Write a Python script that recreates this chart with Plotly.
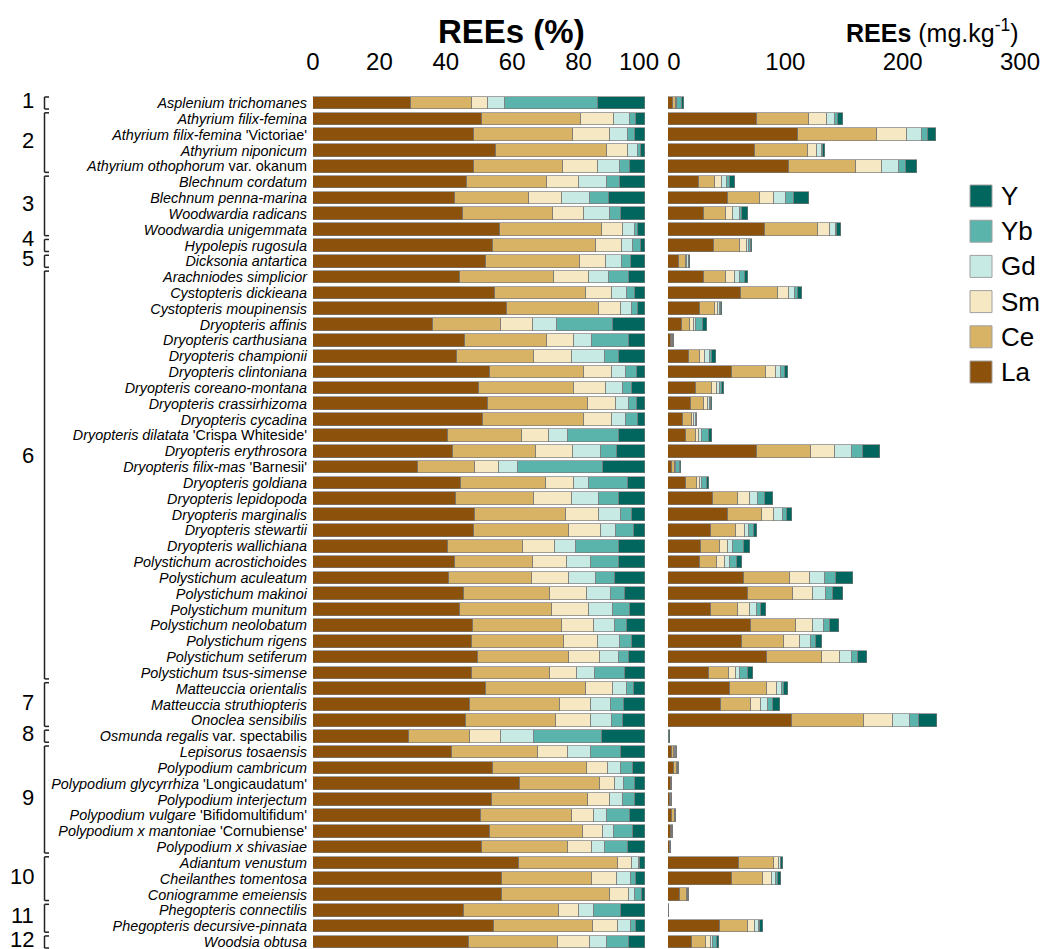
import plotly.graph_objects as go

# ---------------- data ----------------
species = [
    "Asplenium trichomanes", "Athyrium filix-femina", "Athyrium filix-femina", "Athyrium niponicum",
    "Athyrium othophorum", "Blechnum cordatum", "Blechnum penna-marina", "Woodwardia radicans",
    "Woodwardia unigemmata", "Hypolepis rugosula", "Dicksonia antartica", "Arachniodes simplicior",
    "Cystopteris dickieana", "Cystopteris moupinensis", "Dryopteris affinis", "Dryopteris carthusiana",
    "Dryopteris championii", "Dryopteris clintoniana", "Dryopteris coreano-montana", "Dryopteris crassirhizoma",
    "Dryopteris cycadina", "Dryopteris dilatata", "Dryopteris erythrosora", "Dryopteris filix-mas",
    "Dryopteris goldiana", "Dryopteris lepidopoda", "Dryopteris marginalis", "Dryopteris stewartii",
    "Dryopteris wallichiana", "Polystichum acrostichoides", "Polystichum aculeatum", "Polystichum makinoi",
    "Polystichum munitum", "Polystichum neolobatum", "Polystichum rigens", "Polystichum setiferum",
    "Polystichum tsus-simense", "Matteuccia orientalis", "Matteuccia struthiopteris", "Onoclea sensibilis",
    "Osmunda regalis", "Lepisorus tosaensis", "Polypodium cambricum", "Polypodium glycyrrhiza",
    "Polypodium interjectum", "Polypodium vulgare", "Polypodium x mantoniae", "Polypodium x shivasiae",
    "Adiantum venustum", "Cheilanthes tomentosa", "Coniogramme emeiensis", "Phegopteris connectilis",
    "Phegopteris decursive-pinnata", "Woodsia obtusa",
]
suffix = {
    2: "'Victoriae'", 4: "var. okanum", 21: "'Crispa Whiteside'", 23: "'Barnesii'",
    40: "var. spectabilis", 43: "'Longicaudatum'", 45: "'Bifidomultifidum'", 46: "'Cornubiense'",
}

elements = ["La", "Ce", "Sm", "Gd", "Yb", "Y"]

# composition, % of total REEs
La = [29.5, 51.0, 48.5, 55.2, 48.5, 46.3, 42.7, 45.2, 56.3, 54.1, 52.0, 44.4, 54.7, 58.4, 36.0, 45.9, 43.4, 53.3,
      50.1, 52.7, 51.3, 40.8, 42.1, 31.5, 44.6, 43.0, 48.7, 48.5, 40.8, 42.8, 40.9, 45.4, 44.3, 48.3, 47.8, 49.6,
      47.8, 52.0, 47.3, 46.1, 28.9, 42.0, 54.3, 62.2, 53.9, 50.7, 53.2, 50.9, 61.9, 56.9, 56.9, 45.5, 54.5, 46.9]
Ce = [18.5, 29.7, 29.7, 33.5, 26.9, 24.3, 22.4, 27.0, 30.6, 31.0, 28.5, 28.2, 27.4, 27.6, 20.5, 24.5, 23.3, 28.4,
      28.6, 30.1, 30.4, 22.3, 25.2, 17.4, 25.5, 23.7, 27.4, 28.7, 22.6, 23.6, 25.2, 26.0, 27.6, 26.6, 27.7, 27.4,
      23.7, 30.1, 27.0, 27.0, 18.3, 25.7, 28.3, 24.3, 29.0, 27.3, 28.0, 25.8, 29.9, 27.0, 32.5, 28.7, 29.9, 26.8]
Sm = [4.8, 10.1, 11.2, 6.3, 10.5, 9.6, 10.0, 9.5, 6.6, 8.1, 7.7, 10.4, 8.1, 6.9, 9.7, 8.3, 11.2, 8.5,
      9.7, 8.6, 8.5, 8.1, 11.1, 7.0, 8.6, 11.3, 10.0, 9.6, 9.6, 10.0, 10.9, 11.2, 11.3, 9.8, 10.4, 9.3,
      8.1, 8.3, 9.3, 10.5, 9.5, 9.2, 6.3, 4.6, 6.7, 6.7, 6.0, 7.2, 4.4, 7.8, 5.9, 6.0, 7.4, 9.6]
Gd = [4.9, 4.7, 5.6, 3.0, 6.7, 8.4, 8.4, 7.9, 3.4, 3.3, 5.0, 6.3, 4.5, 3.3, 7.2, 5.4, 10.2, 4.1,
      5.1, 3.9, 4.2, 5.7, 8.4, 5.9, 4.4, 8.1, 6.7, 4.4, 6.3, 7.3, 8.2, 7.3, 7.3, 6.4, 6.6, 6.0,
      5.3, 4.2, 6.1, 6.6, 10.0, 6.9, 4.0, 2.6, 3.9, 3.9, 3.4, 4.2, 2.0, 4.1, 1.7, 4.4, 4.1, 5.3]
Yb = [28.0, 1.9, 2.0, 0.7, 3.0, 3.8, 5.6, 3.1, 0.9, 2.2, 2.7, 6.0, 2.2, 1.7, 17.1, 11.1, 4.2, 3.3,
      2.7, 2.2, 3.5, 15.2, 4.8, 25.4, 11.8, 6.2, 3.2, 5.6, 12.8, 8.6, 5.8, 4.1, 4.9, 3.6, 3.7, 2.9,
      9.0, 2.1, 4.0, 3.2, 20.3, 9.1, 3.5, 3.4, 3.6, 7.0, 5.9, 6.9, 0.4, 1.5, 2.1, 8.2, 1.4, 6.7]
Y = [14.3, 2.6, 3.0, 1.3, 4.4, 7.6, 10.9, 7.3, 2.2, 1.3, 4.1, 4.7, 3.1, 2.1, 9.5, 4.8, 7.7, 2.4,
     3.8, 2.5, 2.1, 7.9, 8.4, 12.8, 5.1, 7.7, 4.0, 3.2, 7.9, 7.7, 9.0, 6.0, 4.6, 5.3, 3.8, 4.8,
     6.1, 3.3, 6.3, 6.6, 13.0, 7.1, 3.6, 2.9, 2.9, 4.4, 3.5, 5.0, 1.4, 2.7, 0.9, 7.2, 2.7, 4.7]

# total REEs, mg/kg
total = [13.9, 148.9, 228.1, 134.1, 212.2, 57.1, 120.5, 68.2, 147.4, 71.9, 18.75, 68.5, 114.2, 46.3, 33.0, 5.4,
         40.6, 102.0, 47.7, 37.5, 25.0, 37.5, 181.0, 11.4, 34.9, 89.5, 105.4, 75.6, 69.9, 63.4, 157.4, 149.4,
         83.5, 146.0, 131.3, 169.9, 72.4, 102.3, 95.2, 229.0, 1.4, 8.0, 9.4, 3.7, 3.4, 7.1, 4.3, 2.6,
         98.0, 96.3, 17.9, 1.0, 81.0, 43.5]

group_names = ["1", "2", "3", "4", "5", "6", "7", "8", "9", "10", "11", "12"]
group_first = [0, 1, 5, 9, 10, 11, 37, 40, 41, 48, 51, 53]
group_last = [0, 4, 8, 9, 10, 36, 39, 40, 47, 50, 52, 53]

pct_tick_vals = [0, 20, 40, 60, 80, 100]
pct_tick_text = ["0", "20", "40", "60", "80", "100\u2002"]
conc_tick_vals = [0, 100, 200, 300]
conc_tick_text = ["\u20020", "100", "200", "300"]

# ---------------- style / layout ----------------
colors = ["#8c510a", "#d8b365", "#f6e8c3", "#c7eae5", "#5ab4ac", "#01665e"]
FONT = "Arial, 'Liberation Sans', sans-serif"
W, H = 1050, 949
OFF = 8            # page body margin: screen px = figure px + OFF
ROW_PX = 15.83


def fx(sx):        # screen x px -> paper fraction
    return (sx - OFF) / W


def fy(sy):        # screen y px -> paper fraction
    return 1 - (sy - OFF) / H


PLOT_TOP = 90 - OFF   # figure px
n = len(species)
for arr in (La, Ce, Sm, Gd, Yb, Y, total):
    assert len(arr) == n

rows = list(range(n))
labels = []
for i, s in enumerate(species):
    t = "<i>" + s + "</i>"
    if i in suffix:
        t += " " + suffix[i]
    labels.append(t)

y_top = -(103 - 90) / ROW_PX
y_bot = y_top + (H - PLOT_TOP) / ROW_PX

fig = go.Figure()
pcts = [La, Ce, Sm, Gd, Yb, Y]
for el, col, pct in zip(elements, colors, pcts):
    line = dict(color="rgba(120,120,120,0.85)", width=0.8)
    fig.add_trace(go.Bar(x=pct, y=rows, orientation="h", name=el, width=0.8,
                         marker=dict(color=col, line=line), xaxis="x", yaxis="y"))
    conc = [p * t / 100.0 for p, t in zip(pct, total)]
    fig.add_trace(go.Bar(x=conc, y=rows, orientation="h", name=el, width=0.8,
                         marker=dict(color=col, line=line), xaxis="x2", yaxis="y"))

axis_common = dict(side="top", showgrid=False, zeroline=False, showline=False, ticks="",
                   tickfont=dict(size=24, color="black", family=FONT), ticklabelstandoff=14,
                   anchor="y", automargin=False)
fig.update_layout(
    width=W, height=H, margin=dict(l=0, r=0, t=0, b=0, autoexpand=False),
    barmode="stack", bargap=0, showlegend=False,
    plot_bgcolor="white", paper_bgcolor="white",
    font=dict(family=FONT, color="black"),
    xaxis=dict(domain=[fx(313), fx(645)], range=[0, 100], tickvals=pct_tick_vals,
               ticktext=pct_tick_text, **axis_common),
    xaxis2=dict(domain=[fx(668), fx(1020)], range=[0, 300], tickvals=conc_tick_vals,
                ticktext=conc_tick_text, **axis_common),
    yaxis=dict(domain=[0, 1 - PLOT_TOP / H], range=[y_bot, y_top], tickvals=rows, ticktext=labels,
               tickfont=dict(size=14.4, color="black", family=FONT), showgrid=False, zeroline=False,
               showline=False, ticks="", ticklabelstandoff=5, anchor="x", automargin=False),
)

# axis titles
fig.add_annotation(text="<b>REEs (%)</b>", x=fx(511), y=fy(31), xref="paper", yref="paper",
                   showarrow=False, font=dict(size=33, family=FONT, color="black"),
                   xanchor="center", yanchor="middle")
fig.add_annotation(text="<b>REEs</b> (mg.kg<sup>-1</sup>)", x=fx(932), y=fy(31), xref="paper",
                   yref="paper", showarrow=False, font=dict(size=25, family=FONT, color="black"),
                   xanchor="center", yanchor="middle")

# legend (manual, Y on top)
for k, (el, col) in enumerate(zip(elements[::-1], colors[::-1])):
    cy = 196 + k * 35.2
    fig.add_shape(type="rect", xref="paper", yref="paper",
                  x0=fx(970), x1=fx(992), y0=fy(cy - 11), y1=fy(cy + 11),
                  fillcolor=col, line=dict(color="#a0a0a0", width=1))
    fig.add_annotation(text=el, x=fx(999), y=fy(cy), xref="paper", yref="paper", showarrow=False,
                       xanchor="left", yanchor="middle", font=dict(size=26, family=FONT, color="black"))

# group brackets
label_shift = {"4": -0.28, "6": -1.1}
bx, btick = fx(44.5), fx(49)
for g, a, b in zip(group_names, group_first, group_last):
    y0, y1 = a - 0.38, b + 0.38
    lc = dict(color="#222222", width=1.5)
    fig.add_shape(type="line", xref="paper", yref="y", x0=bx, x1=bx, y0=y0, y1=y1, line=lc)
    fig.add_shape(type="line", xref="paper", yref="y", x0=bx, x1=btick, y0=y0, y1=y0, line=lc)
    fig.add_shape(type="line", xref="paper", yref="y", x0=bx, x1=btick, y0=y1, y1=y1, line=lc)
    ym = (a + b) / 2 - 0.15 + label_shift.get(g, 0)
    fig.add_annotation(text=g, x=fx(36), y=ym, xref="paper", yref="y", showarrow=False,
                       xanchor="right", yanchor="middle", font=dict(size=22, family=FONT, color="black"))

fig.write_html("out.html")
